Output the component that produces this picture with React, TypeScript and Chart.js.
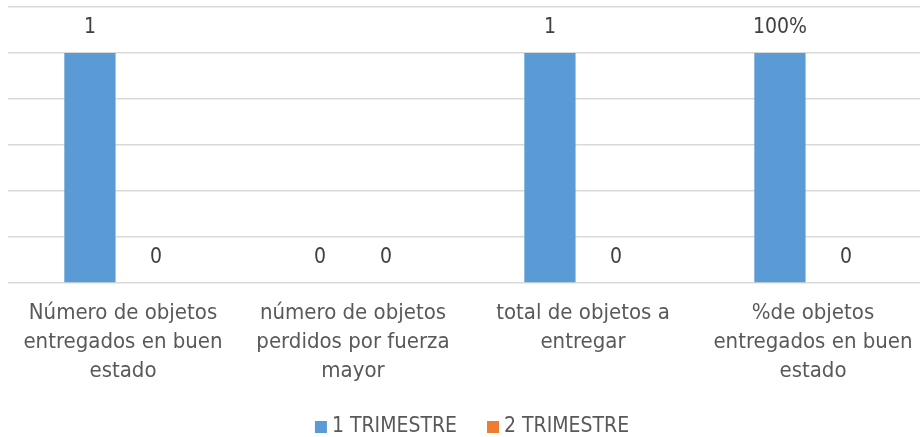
import React, { useEffect, useRef } from "react";
import { Chart, registerables } from "chart.js";

Chart.register(...registerables);

const categories: string[][] = [
  ["Número de objetos", "entregados en buen", "estado"],
  ["número de objetos", "perdidos por fuerza", "mayor"],
  ["total de objetos a", "entregar"],
  ["%de objetos", "entregados en buen", "estado"],
];
const seriesNames = ["1 TRIMESTRE", "2 TRIMESTRE"];
const trimestre1 = [1, 0, 1, 1];
const trimestre2 = [0, 0, 0, 0];
const trimestre1Labels = ["1", "0", "1", "100%"];
const trimestre2Labels = ["0", "0", "0", "0"];
const colors = ["#5B9BD5", "#ED7D31"];
const FONT = "'Liberation Sans Narrow', 'DejaVu Sans Condensed', 'Open Sans', sans-serif";
const valueLabels = [trimestre1Labels, trimestre2Labels];

const labelPlugin = {
  id: "valueLabels",
  afterDatasetsDraw(chart: any) {
    const ctx = chart.ctx;
    ctx.save();
    ctx.font = `21px ${FONT}`;
    ctx.fillStyle = "#404040";
    ctx.textAlign = "center";
    ctx.textBaseline = "middle";
    chart.data.datasets.forEach((ds: any, di: number) => {
      const meta = chart.getDatasetMeta(di);
      meta.data.forEach((bar: any, i: number) => {
        ctx.fillText(valueLabels[di][i], bar.x, bar.y - 25);
      });
    });
    ctx.restore();
  },
};

const legendPlugin = {
  id: "customLegend",
  afterDraw(chart: any) {
    const ctx = chart.ctx;
    ctx.save();
    ctx.font = `21px ${FONT}`;
    ctx.textBaseline = "middle";
    ctx.textAlign = "left";
    const box = 12;
    const gap = 5;
    const itemGap = 30;
    const items = chart.data.datasets.map((ds: any) => ({
      text: ds.label,
      color: ds.backgroundColor,
      w: box + gap + ctx.measureText(ds.label).width,
    }));
    const total = items.reduce((s: number, it: any) => s + it.w, 0) + itemGap * (items.length - 1);
    let x = chart.width / 2 + 8 - total / 2;
    const y = 427;
    items.forEach((it: any) => {
      ctx.fillStyle = it.color;
      ctx.fillRect(x, y - box / 2, box, box);
      ctx.fillStyle = "#595959";
      ctx.fillText(it.text, x + box + gap, y);
      x += it.w + itemGap;
    });
    ctx.restore();
  },
};

export default function App() {
  const ref = useRef<HTMLCanvasElement>(null);
  useEffect(() => {
    if (!ref.current) return;
    const chart = new Chart(ref.current, {
      type: "bar",
      data: {
        labels: categories,
        datasets: [
          { label: seriesNames[0], data: trimestre1, backgroundColor: colors[0] },
          { label: seriesNames[1], data: trimestre2, backgroundColor: colors[1] },
        ],
      },
      options: {
        responsive: false,
        animation: false,
        layout: { padding: { left: 8, right: 0, top: 7, bottom: 43 } },
        datasets: { bar: { categoryPercentage: 0.575, barPercentage: 0.775 } },
        scales: {
          x: {
            grid: { display: false },
            border: { display: false },
            ticks: {
              color: "#595959",
              font: { family: FONT, size: 22, lineHeight: 1.32 },
              maxRotation: 0,
              autoSkip: false,
              padding: 8,
            },
          },
          y: {
            min: 0,
            max: 1.2,
            ticks: { display: false, stepSize: 0.2 },
            grid: { color: "#D9D9D9", lineWidth: 1.5, drawTicks: false },
            border: { display: false },
          },
        },
        plugins: {
          legend: { display: false },
          tooltip: { enabled: false },
        },
      },
      plugins: [labelPlugin, legendPlugin],
    });
    return () => chart.destroy();
  }, []);
  return (
    <>
      <style>{`html,body{margin:0;padding:0;overflow:hidden}`}</style>
      <canvas ref={ref} width={928} height={437} style={{ display: "block" }} />
    </>
  );
}
